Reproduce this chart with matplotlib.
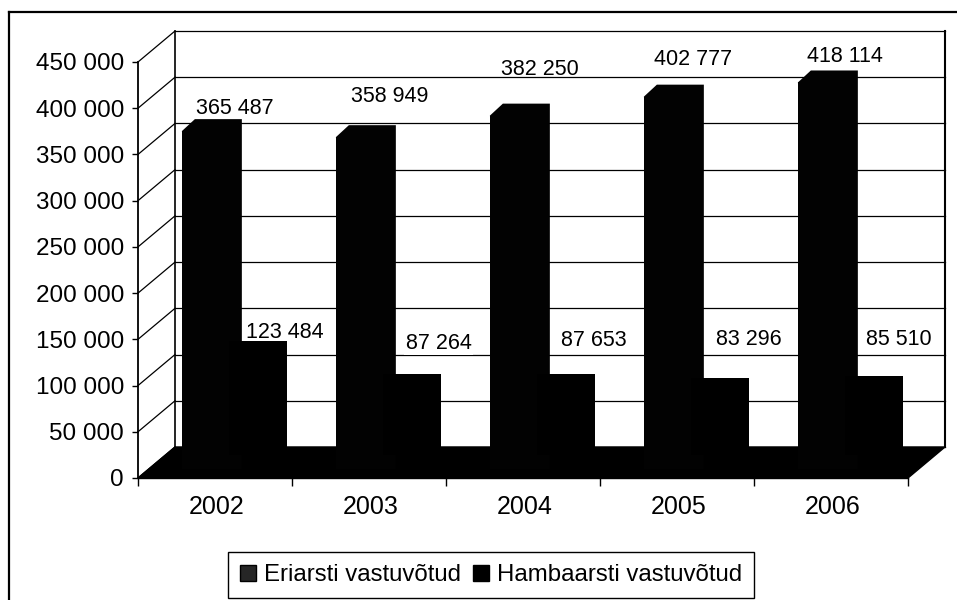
import matplotlib
matplotlib.use("Agg")
import matplotlib.pyplot as plt
from matplotlib.lines import Line2D

plt.rcParams['font.family'] = ['Liberation Sans', 'DejaVu Sans']

years = ['2002', '2003', '2004', '2005', '2006']
eriarsti = [365487, 358949, 382250, 402777, 418114]
hambaarsti = [123484, 87264, 87653, 83296, 85510]
y_ticks = [0, 50000, 100000, 150000, 200000, 250000, 300000, 350000, 400000, 450000]

W, H = 957, 600
X0, X1, Y0, Y1 = 138, 908, 478, 62
CAT_PX = (X1 - X0) / 5
VAL_PX = (Y0 - Y1) / 450000


def px_x(p):
    return p / CAT_PX


def px_y(p):
    return p / VAL_PX


# layout only: label offsets in pixels from the bar's top (x offset, y offset)
label_off_1 = [(16, 11), (17, 29), (14, 34), (13, 25), (11, 14)]
label_off_2 = [(20, 8), (20, 31), (21, 33), (22, 38), (18, 36)]

fig = plt.figure(figsize=(W / 100, H / 100), dpi=100, facecolor='white')
ax = fig.add_axes([X0 / W, 1 - Y0 / H, (X1 - X0) / W, (Y0 - Y1) / H], facecolor='none')
ax.set_xlim(0, 5)
ax.set_ylim(0, 450000)
for s in ('top', 'right'):
    ax.spines[s].set_visible(False)
ax.spines['left'].set_linewidth(1.3)
ax.spines['bottom'].set_linewidth(1.0)

DX, DY = px_x(37), px_y(31)

# walls and gridlines
for t in y_ticks:
    ax.plot([0, DX], [t, t + DY], color='black', lw=0.9, zorder=1, clip_on=False)
    ax.plot([DX, 5 + DX], [t + DY, t + DY], color='black', lw=0.9, zorder=1, clip_on=False)
ax.plot([DX, DX], [DY, 450000 + DY], color='black', lw=1.2, zorder=1, clip_on=False)
ax.plot([5 + DX, 5 + DX], [DY, 450000 + DY], color='black', lw=1.5, zorder=1, clip_on=False)

# floor
ax.fill([0, DX, 5 + DX, 5, 0], [0, DY, DY, 0, 0], color='black', zorder=2, clip_on=False)

W1 = 0.305
W2 = 0.295
LEFT = 0.22
FX, FY = px_x(10), px_y(9)
BX, BY1, BY2 = px_x(23), px_y(21), px_y(23)

for i in range(len(years)):
    x = i + LEFT
    v = eriarsti[i]
    # first series: front face plus its chamfered top and side
    ax.bar(x + FX, v, W1, bottom=FY, align='edge', color='#020202', zorder=3, clip_on=False)
    ax.fill([x + FX, x + BX, x + BX + W1, x + BX + W1, x + FX + W1],
            [v + FY, v + BY1, v + BY1, FY, FY], color='#020202', lw=0, zorder=3, clip_on=False)
    # second series: silhouette merges with the first, so its top reads flat
    ax.bar(x + FX + W1, hambaarsti[i], W2 + BX - FX, bottom=BY2, align='edge',
           color='black', zorder=3, clip_on=False)

for i in range(len(years)):
    ax.annotate(f"{eriarsti[i]:,}".replace(',', ' '),
                (i + LEFT + W1 / 2 + BX, eriarsti[i] + BY1),
                xytext=label_off_1[i], textcoords='offset pixels',
                ha='center', va='center', fontsize=15.5, color='black', zorder=6,
                annotation_clip=False)
    # white label boxes sit over the gridlines but under the bars
    ax.annotate(f"{hambaarsti[i]:,}".replace(',', ' '),
                (i + LEFT + W1 + W2 / 2 + BX, hambaarsti[i] + BY2),
                xytext=label_off_2[i], textcoords='offset pixels',
                ha='center', va='center', fontsize=15.5, color='black', zorder=2.5,
                annotation_clip=False,
                bbox=dict(facecolor='white', edgecolor='none', pad=1.0))

ax.set_yticks(y_ticks)
ax.set_yticklabels([f"{t:,}".replace(',', ' ') for t in y_ticks], fontsize=17.5)
ax.tick_params(axis='y', length=4, width=1, pad=6)
ax.set_xticks(range(6))
ax.set_xticklabels([])
ax.set_xticks([i + 0.51 for i in range(5)], minor=True)
ax.set_xticklabels(years, minor=True, fontsize=18)
ax.tick_params(axis='x', which='major', length=6, width=1)
ax.tick_params(axis='x', which='minor', length=0, pad=12.5)

handles = [Line2D([], [], ls='none', marker='s', ms=11, mfc='#262626', mec='black', label='Eriarsti vastuvõtud'),
           Line2D([], [], ls='none', marker='s', ms=11, mfc='black', mec='black', label='Hambaarsti vastuvõtud')]
leg = ax.legend(handles=handles, ncol=2, loc='center', bbox_to_anchor=(491 / W, 1 - 575 / H),
                bbox_transform=fig.transFigure, fontsize=17.3, frameon=True, fancybox=False,
                edgecolor='black', framealpha=1, handlelength=0.7, handletextpad=0.3,
                columnspacing=0.5, borderpad=0.5, borderaxespad=0)
leg.get_frame().set_linewidth(1.0)

# outer chart border (left and top edges)
fig.add_artist(Line2D([9 / W, 9 / W], [0, 1 - 12 / H], color='black', lw=1.6, transform=fig.transFigure))
fig.add_artist(Line2D([9 / W, 1], [1 - 12 / H, 1 - 12 / H], color='black', lw=1.6, transform=fig.transFigure))

fig.savefig('out.png', dpi=100)
